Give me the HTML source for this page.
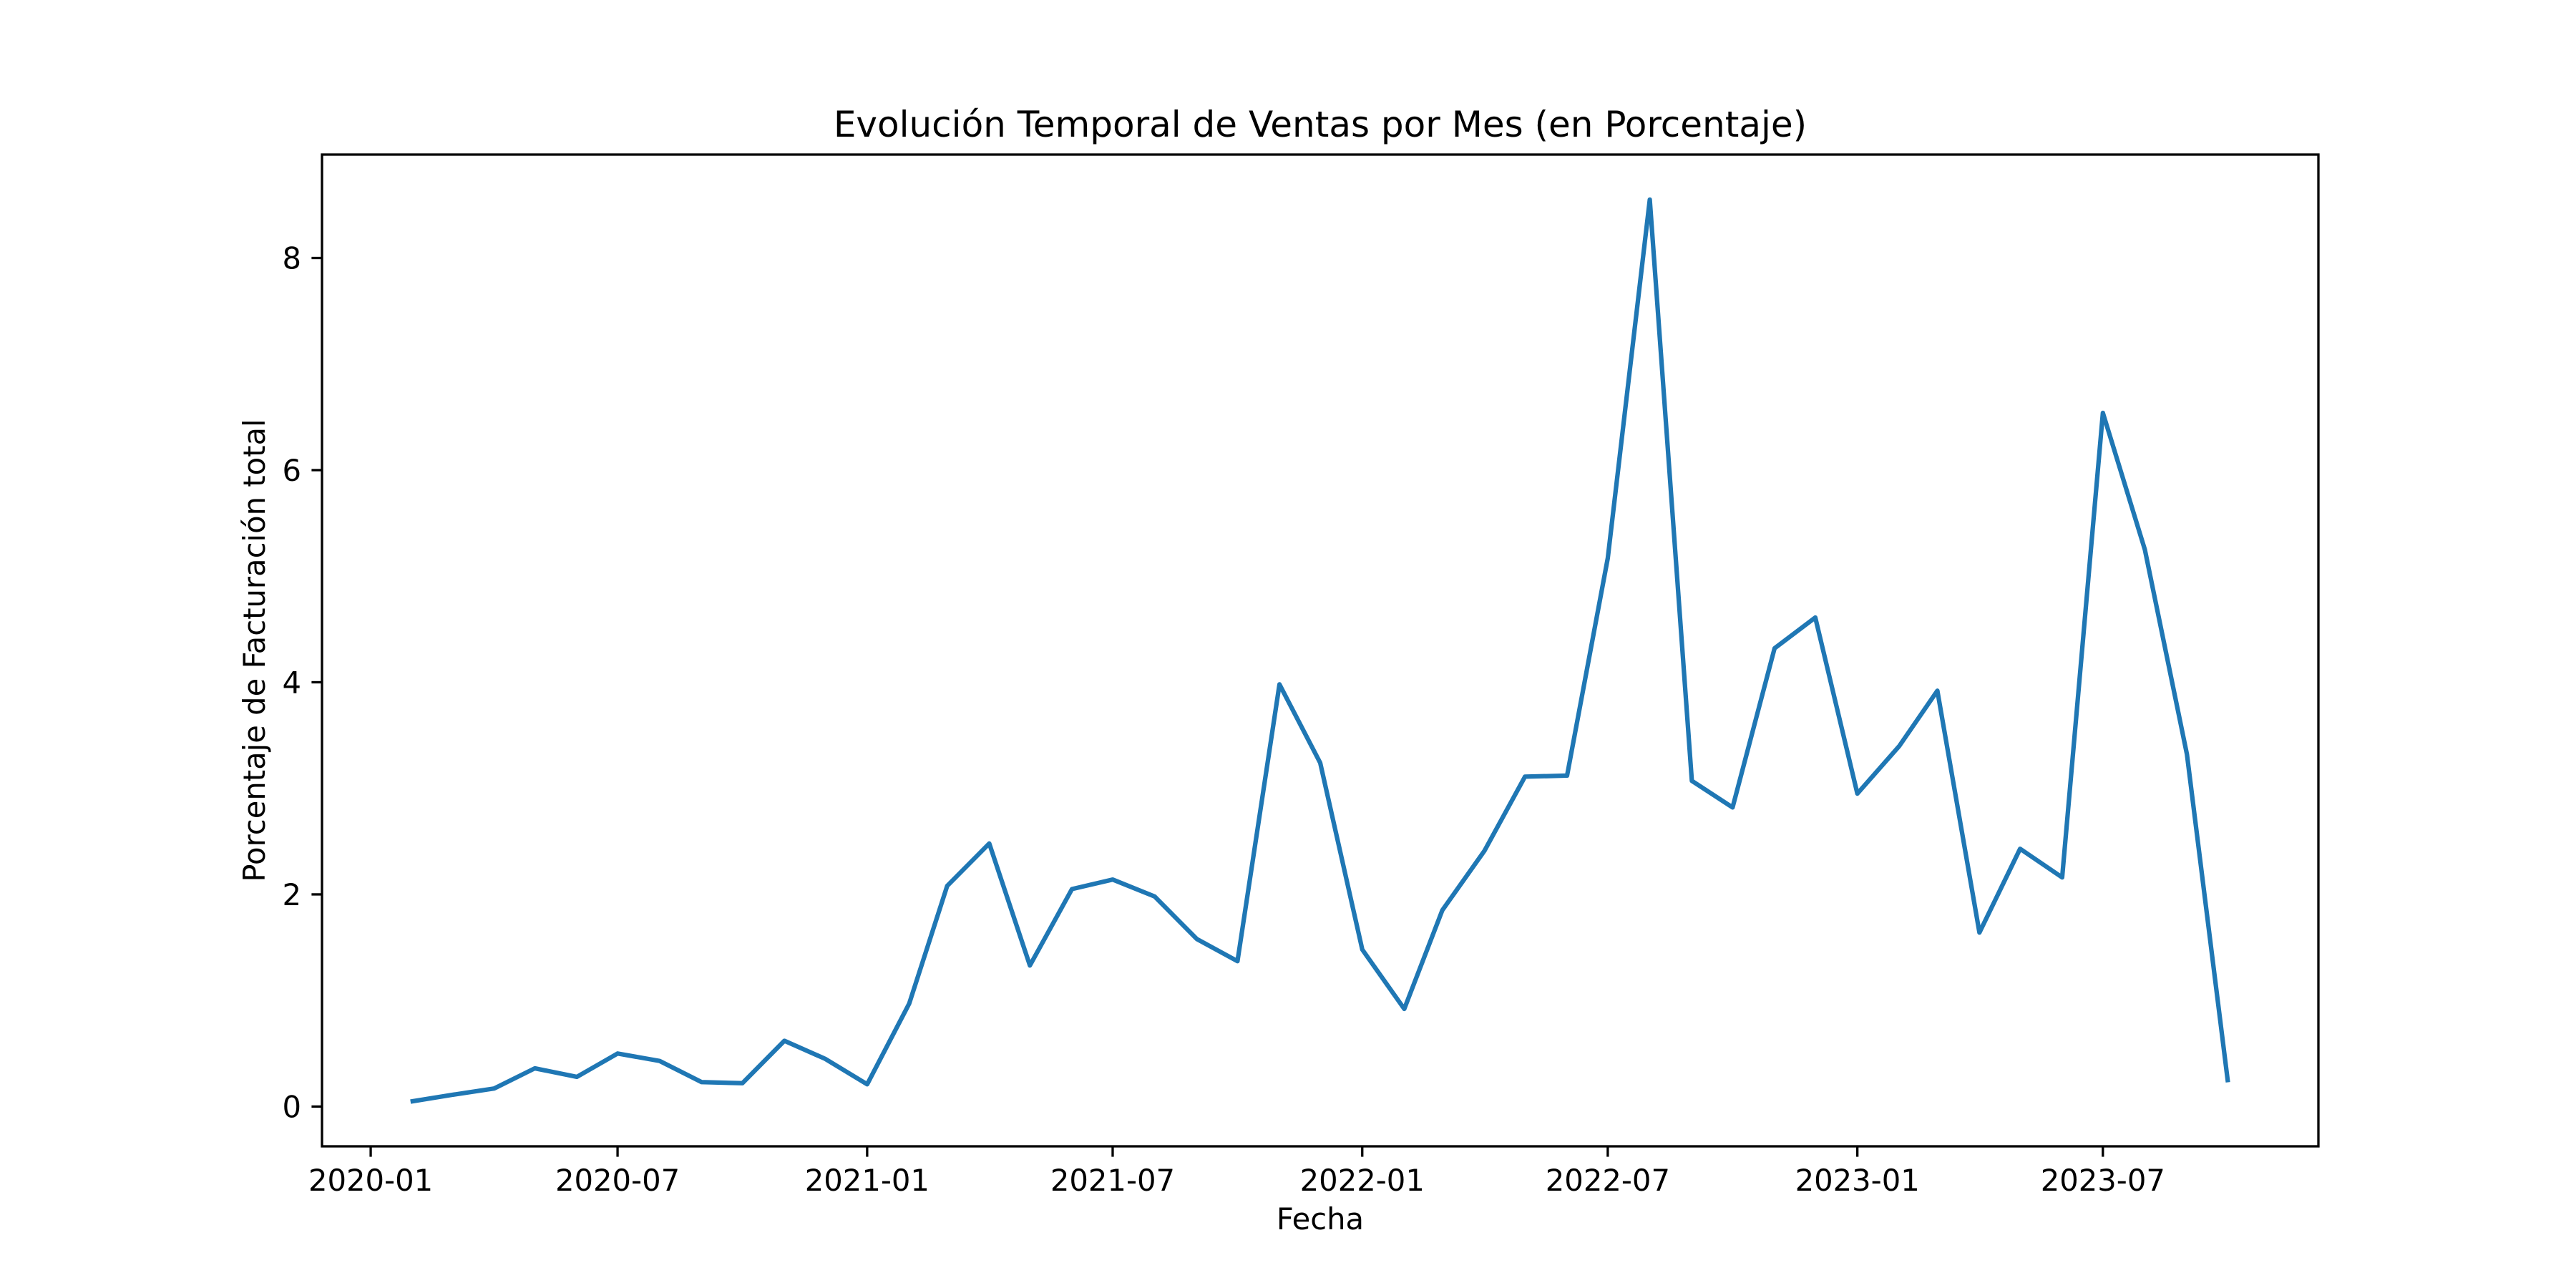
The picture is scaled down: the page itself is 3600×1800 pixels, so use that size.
<!DOCTYPE html>
<html><head><meta charset="utf-8"><style>
html,body{margin:0;padding:0;background:#fff}
svg{display:block}
text{font-family:"DejaVu Sans","Liberation Sans",sans-serif;fill:#000}
</style></head><body>
<svg id="chart" width="3600" height="1800" viewBox="0 0 3600 1800" xmlns="http://www.w3.org/2000/svg">
<rect width="3600" height="1800" fill="#fff"/>
<text x="1845" y="191" font-size="50" text-anchor="middle">Evolución Temporal de Ventas por Mes (en Porcentaje)</text>
<text x="1845" y="1718" font-size="41.7" text-anchor="middle">Fecha</text>
<text x="0" y="0" font-size="41.7" text-anchor="middle" transform="translate(370,909) rotate(-90)">Porcentaje de Facturación total</text>
<g id="ticks"></g>
<g id="series"></g>
<rect x="450" y="216" width="2790" height="1386" fill="none" stroke="#000" stroke-width="3.3"/>
</svg>
<script>
const months = ["2020-02","2020-03","2020-04","2020-05","2020-06","2020-07","2020-08","2020-09","2020-10","2020-11","2020-12",
"2021-01","2021-02","2021-03","2021-04","2021-05","2021-06","2021-07","2021-08","2021-09","2021-10","2021-11","2021-12",
"2022-01","2022-02","2022-03","2022-04","2022-05","2022-06","2022-07","2022-08","2022-09","2022-10","2022-11","2022-12",
"2023-01","2023-02","2023-03","2023-04","2023-05","2023-06","2023-07","2023-08","2023-09","2023-10"];
const values = [0.05,0.11,0.17,0.36,0.28,0.50,0.43,0.23,0.22,0.62,0.45,
0.21,0.97,2.08,2.48,1.33,2.05,2.14,1.98,1.58,1.37,3.98,3.24,
1.48,0.92,1.85,2.41,3.11,3.12,5.17,8.55,3.07,2.82,4.32,4.61,
2.95,3.40,3.92,1.64,2.43,2.16,6.54,5.25,3.32,0.25];
const xTickLabels = ["2020-01","2020-07","2021-01","2021-07","2022-01","2022-07","2023-01","2023-07"];
const yTickLabels = [0,2,4,6,8];

const L=450,R=3240,T=216,B=1602;
const ns="http://www.w3.org/2000/svg";
const day = s => (Date.UTC(+s.slice(0,4), +s.slice(5,7)-1, 1) - Date.UTC(2020,0,1))/86400000;
const dmin = Math.min(...months.map(day)), dmax = Math.max(...months.map(day));
const dpad = (dmax-dmin)*0.05;
const vmin = Math.min(...values), vmax = Math.max(...values);
const vpad = (vmax-vmin)*0.05;
const xs = d => L + (d-(dmin-dpad))/((dmax+dpad)-(dmin-dpad))*(R-L);
const ys = v => B - (v-(vmin-vpad))/((vmax+vpad)-(vmin-vpad))*(B-T);

const tg=document.getElementById('ticks');
xTickLabels.forEach(lbl=>{
  const x=xs(day(lbl));
  const ln=document.createElementNS(ns,'line');
  ln.setAttribute('x1',x);ln.setAttribute('x2',x);ln.setAttribute('y1',B);ln.setAttribute('y2',B+14.6);
  ln.setAttribute('stroke','#000');ln.setAttribute('stroke-width','3.3');
  
  
  tg.appendChild(ln);
  const t=document.createElementNS(ns,'text');
  t.setAttribute('x',x);t.setAttribute('y',B+62);t.setAttribute('font-size','41.7');t.setAttribute('text-anchor','middle');
  t.textContent=lbl;
  
  
  tg.appendChild(t);
});
yTickLabels.forEach(v=>{
  const y=ys(v);
  const ln=document.createElementNS(ns,'line');
  ln.setAttribute('x1',L-14.6);ln.setAttribute('x2',L);ln.setAttribute('y1',y);ln.setAttribute('y2',y);
  ln.setAttribute('stroke','#000');ln.setAttribute('stroke-width','3.3');
  
  
  tg.appendChild(ln);
  const t=document.createElementNS(ns,'text');
  t.setAttribute('x',L-29);t.setAttribute('y',y+15);t.setAttribute('font-size','41.7');t.setAttribute('text-anchor','end');
  t.textContent=v;
  
  
  tg.appendChild(t);
});
const p=document.createElementNS(ns,'polyline');
p.setAttribute('points',months.map((m,i)=>xs(day(m)).toFixed(1)+','+ys(values[i]).toFixed(1)).join(' '));
p.setAttribute('fill','none');p.setAttribute('stroke','#1f77b4');p.setAttribute('stroke-width','6.25');
p.setAttribute('stroke-linejoin','round');p.setAttribute('stroke-linecap','square');


document.getElementById('series').appendChild(p);
</script>
</body></html>
